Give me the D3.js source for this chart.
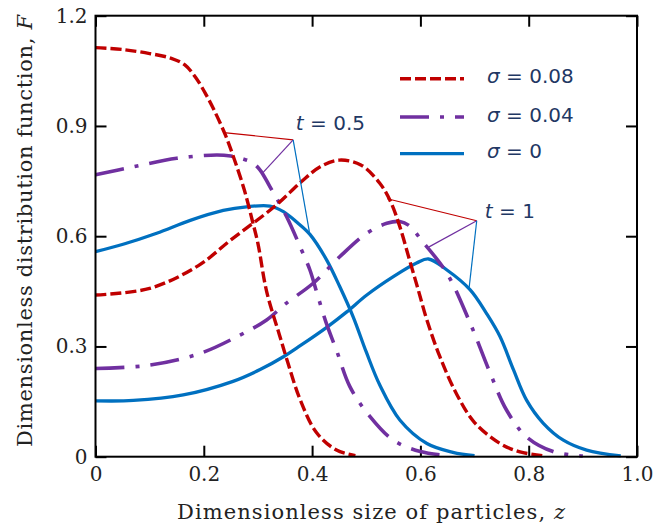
<!DOCTYPE html>
<html>
<head>
<meta charset="utf-8">
<script src="https://cdn.jsdelivr.net/npm/d3@7"></script>
<style>
  body { margin: 0; background: #fff; }
  svg { display: block; }
</style>
</head>
<body>
<svg id="chart" width="654" height="527"></svg>
<script>
// --- data ---
const xTicks = [0, 0.2, 0.4, 0.6, 0.8, 1.0];
const xTickLabels = ["0", "0.2", "0.4", "0.6", "0.8", "1.0"];
const yTicks = [0, 0.3, 0.6, 0.9, 1.2];
const yTickLabels = ["0", "0.3", "0.6", "0.9", "1.2"];

const sigmaLabels = ["0.08", "0.04", "0"];

// sigma = 0.08, t = 0.5
const z_r05 = [0, 0.05, 0.10, 0.14, 0.165, 0.185, 0.205, 0.22, 0.24, 0.255, 0.275, 0.29, 0.30, 0.316, 0.34, 0.355, 0.378, 0.408, 0.445, 0.48];
const F_r05 = [1.113, 1.108, 1.097, 1.084, 1.066, 1.032, 0.983, 0.940, 0.875, 0.815, 0.725, 0.640, 0.580, 0.450, 0.33, 0.257, 0.155, 0.066, 0.018, 0.003];
// sigma = 0.08, t = 1
const z_r1 = [0, 0.1, 0.19, 0.25, 0.33, 0.38, 0.415, 0.45, 0.49, 0.525, 0.545, 0.562, 0.58, 0.596, 0.612, 0.636, 0.667, 0.70, 0.747, 0.784, 0.83];
const F_r1 = [0.44, 0.458, 0.52, 0.59, 0.68, 0.748, 0.789, 0.807, 0.794, 0.744, 0.694, 0.626, 0.535, 0.454, 0.372, 0.272, 0.17, 0.093, 0.036, 0.013, 0.002];
// sigma = 0.04, t = 0.5
const z_p05 = [0, 0.07, 0.15, 0.224, 0.25, 0.273, 0.29, 0.304, 0.322, 0.353, 0.378, 0.396, 0.408, 0.427, 0.445, 0.47, 0.507, 0.55, 0.60, 0.65];
const F_p05 = [0.767, 0.789, 0.812, 0.821, 0.818, 0.810, 0.80, 0.78, 0.735, 0.653, 0.571, 0.508, 0.45, 0.36, 0.29, 0.19, 0.109, 0.045, 0.014, 0.003];
// sigma = 0.04, t = 1
const z_p1 = [0, 0.1, 0.193, 0.267, 0.316, 0.35, 0.402, 0.451, 0.501, 0.538, 0.562, 0.58, 0.602, 0.649, 0.692, 0.729, 0.759, 0.796, 0.845, 0.90];
const F_p1 = [0.24, 0.249, 0.281, 0.331, 0.372, 0.415, 0.472, 0.544, 0.608, 0.635, 0.640, 0.628, 0.589, 0.499, 0.363, 0.227, 0.127, 0.054, 0.014, 0.002];
// sigma = 0, t = 0.5
const z_b05 = [0, 0.051, 0.113, 0.175, 0.236, 0.279, 0.322, 0.347, 0.372, 0.396, 0.427, 0.451, 0.476, 0.50, 0.525, 0.562, 0.612, 0.66, 0.70];
const F_b05 = [0.558, 0.578, 0.608, 0.643, 0.670, 0.680, 0.682, 0.667, 0.638, 0.605, 0.535, 0.463, 0.38, 0.285, 0.195, 0.10, 0.036, 0.012, 0.003];
// sigma = 0, t = 1
const z_b1 = [0, 0.07, 0.162, 0.254, 0.304, 0.347, 0.378, 0.427, 0.464, 0.501, 0.55, 0.593, 0.615, 0.649, 0.692, 0.722, 0.747, 0.772, 0.796, 0.827, 0.864, 0.907, 0.97];
const F_b1 = [0.152, 0.153, 0.168, 0.205, 0.237, 0.272, 0.302, 0.352, 0.394, 0.44, 0.49, 0.527, 0.538, 0.508, 0.454, 0.39, 0.327, 0.236, 0.154, 0.091, 0.045, 0.018, 0.002];

// leader lines: label anchor and the curve points they point at (z, F)
const t05Anchor = [0.365, 0.862];
const t05Targets = [[0.237, 0.882], [0.308, 0.771], [0.395, 0.612]];
const t1Anchor = [0.704, 0.642];
const t1Targets = [[0.539, 0.702], [0.616, 0.571], [0.690, 0.460]];
const t05LabelPos = [0.370, 0.889];
const t1LabelPos = [0.719, 0.650];

// --- drawing ---
const RED = "#c00000", PURPLE = "#7030a0", BLUE = "#0070c0", NAVY = "#1f3864";
const dashes = { red: "11,4", purple: "29,11,4,11", blue: null };

const svg = d3.select("#chart");
const pLeft = 95.5, pRight = 637, pTop = 15.7, pBottom = 456.7;

const x = d3.scaleLinear().domain([0, 1]).range([pLeft, pRight]);
const y = d3.scaleLinear().domain([0, 1.2]).range([pBottom, pTop]);

const serif = "'DejaVu Serif', serif";
const sans = "'DejaVu Sans', sans-serif";

// axes (ticks point inward)
const axB = d3.axisBottom(x).tickValues(xTicks).tickFormat((d, i) => xTickLabels[i])
	.tickSize(-11).tickSizeOuter(0).tickPadding(10);
const axT = d3.axisTop(x).tickValues(xTicks).tickFormat("").tickSize(-11).tickSizeOuter(0);
const axL = d3.axisLeft(y).tickValues(yTicks).tickFormat((d, i) => yTickLabels[i])
	.tickSize(-11).tickSizeOuter(0).tickPadding(8);
const axR = d3.axisRight(y).tickValues(yTicks).tickFormat("").tickSize(-11).tickSizeOuter(0);

function styleAxis(g) {
	g.select(".domain").remove();
	g.selectAll(".tick line").attr("stroke", "#000").attr("stroke-width", 2);
	g.selectAll(".tick text").attr("font-family", serif).attr("font-size", 20).attr("fill", "#222");
}
svg.append("g").attr("transform", `translate(0,${pBottom})`).call(axB).call(styleAxis);
svg.append("g").attr("transform", `translate(0,${pTop})`).call(axT).call(styleAxis);
svg.append("g").attr("transform", `translate(${pLeft},0)`).call(axL).call(styleAxis);
svg.append("g").attr("transform", `translate(${pRight},0)`).call(axR).call(styleAxis);

// curves
const line = d3.line().x(d => x(d[0])).y(d => y(d[1])).curve(d3.curveCatmullRom.alpha(0.5));
const zip = (zs, fs) => zs.map((z, i) => [z, fs[i]]);

const curves = [
	{ pts: zip(z_b05, F_b05), color: BLUE, dash: dashes.blue, w: 3.3 },
	{ pts: zip(z_b1, F_b1), color: BLUE, dash: dashes.blue, w: 3.3 },
	{ pts: zip(z_p05, F_p05), color: PURPLE, dash: dashes.purple, w: 3.6 },
	{ pts: zip(z_p1, F_p1), color: PURPLE, dash: dashes.purple, w: 3.6 },
	{ pts: zip(z_r05, F_r05), color: RED, dash: dashes.red, w: 3.4 },
	{ pts: zip(z_r1, F_r1), color: RED, dash: dashes.red, w: 3.4 }
];
curves.forEach(c => {
	svg.append("path")
		.datum(c.pts)
		.attr("d", line)
		.attr("fill", "none")
		.attr("stroke", c.color)
		.attr("stroke-width", c.w)
		.attr("stroke-dasharray", c.dash);
});

// frame
svg.append("rect")
	.attr("x", pLeft).attr("y", pTop)
	.attr("width", pRight - pLeft).attr("height", pBottom - pTop)
	.attr("fill", "none").attr("stroke", "#000").attr("stroke-width", 2);

// leader lines
const leaderColors = [RED, PURPLE, BLUE];
function leaders(anchor, targets) {
	targets.forEach((t, i) => {
		svg.append("line")
			.attr("x1", x(anchor[0])).attr("y1", y(anchor[1]))
			.attr("x2", x(t[0])).attr("y2", y(t[1]))
			.attr("stroke", leaderColors[i]).attr("stroke-width", 1.2);
	});
}
leaders(t05Anchor, t05Targets);
leaders(t1Anchor, t1Targets);

function tLabel(pos, val) {
	const t = svg.append("text")
		.attr("x", x(pos[0])).attr("y", y(pos[1]))
		.attr("font-family", sans).attr("font-size", 20).attr("fill", NAVY);
	t.append("tspan").attr("font-style", "italic").text("t");
	t.append("tspan").text(" = " + val);
}
tLabel(t05LabelPos, "0.5");
tLabel(t1LabelPos, "1");

// legend
const legX1 = 400, legX2 = 464, legTextX = 487;
const legY = [78.7, 117, 153.7];
const legStyles = [
	{ color: RED, dash: dashes.red, w: 3.4 },
	{ color: PURPLE, dash: dashes.purple, w: 3.6 },
	{ color: BLUE, dash: dashes.blue, w: 3.3 }
];
sigmaLabels.forEach((lab, i) => {
	svg.append("line")
		.attr("x1", legX1).attr("x2", legX2)
		.attr("y1", legY[i]).attr("y2", legY[i])
		.attr("stroke", legStyles[i].color)
		.attr("stroke-width", legStyles[i].w)
		.attr("stroke-dasharray", legStyles[i].dash);
	const t = svg.append("text")
		.attr("x", legTextX).attr("y", legY[i] + 4.5)
		.attr("font-family", sans).attr("font-size", 20).attr("fill", NAVY);
	t.append("tspan").attr("font-style", "italic").text("σ");
	t.append("tspan").text(" = " + lab);
});

// axis titles
const xt = svg.append("text")
	.attr("x", 177).attr("y", 519)
	.attr("textLength", 388).attr("lengthAdjust", "spacing")
	.attr("font-family", serif).attr("font-size", 21).attr("fill", "#222");
xt.append("tspan").text("Dimensionless size of particles, ");
xt.append("tspan").attr("font-style", "italic").text("z");

const yt = svg.append("text")
	.attr("transform", "translate(32,447) rotate(-90)")
	.attr("textLength", 432).attr("lengthAdjust", "spacing")
	.attr("font-family", serif).attr("font-size", 21).attr("fill", "#222");
yt.append("tspan").text("Dimensionless distribution function, ");
yt.append("tspan").attr("font-style", "italic").text("F");
</script>
</body>
</html>
